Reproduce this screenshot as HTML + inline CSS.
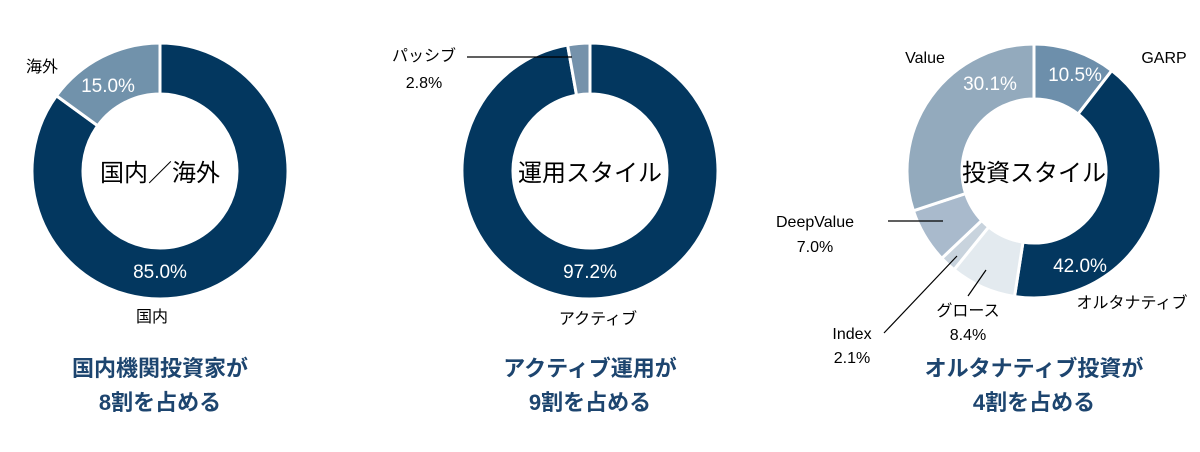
<!DOCTYPE html>
<html><head><meta charset="utf-8"><style>
html,body{margin:0;padding:0;background:#fff;}
svg{display:block;font-family:"Liberation Sans","Noto Sans CJK JP",sans-serif;}
</style></head><body>
<svg id="c" width="1200" height="452" viewBox="0 0 1200 452"></svg>
<script>
const chart1Values=[85.0,15.0];
const chart1Labels=["85.0%","15.0%"];
const chart1Colors=["#03375f","#7192ab"];
const chart2Values=[97.2,2.8];
const chart2Labels=["97.2%","2.8%"];
const chart2Colors=["#03375f","#7592ab"];
const chart3Values=[10.5,42.0,8.4,2.1,7.0,30.1];
const chart3Labels=["10.5%","42.0%","8.4%","2.1%","7.0%","30.1%"];
const chart3Colors=["#6d8fab","#03375f","#e3eaef","#c8d3dd","#a9bacc","#93aabd"];
const NS="http://www.w3.org/2000/svg";
const svg=document.getElementById('c');
function mk(tag,attrs,parent){const e=document.createElementNS(NS,tag);for(const k in attrs)e.setAttribute(k,attrs[k]);(parent||svg).appendChild(e);return e;}
function txt(x,y,s,size,fill,weight,name,anchor){const t=mk('text',{x:x,y:y,'font-size':size,fill:fill,'font-weight':weight||'normal','text-anchor':anchor||'middle'});t.textContent=s;


return t;}
function line(x1,y1,x2,y2,name){const l=mk('line',{x1:x1,y1:y1,x2:x2,y2:y2,stroke:'#000','stroke-width':1.2});

}
function donut(cx,cy,ro,ri,values,colors,prefix){
 const total=values.reduce((a,b)=>a+b,0);let a0=0;
 values.forEach((v,i)=>{const a1=a0+v/total*Math.PI*2;
  const p=(r,a)=>[cx+r*Math.sin(a),cy-r*Math.cos(a)];
  const large=(a1-a0)>Math.PI?1:0;
  const [x1,y1]=p(ro,a0),[x2,y2]=p(ro,a1),[x3,y3]=p(ri,a1),[x4,y4]=p(ri,a0);
  const path=mk('path',{d:`M${x1},${y1}A${ro},${ro} 0 ${large} 1 ${x2},${y2}L${x3},${y3}A${ri},${ri} 0 ${large} 0 ${x4},${y4}Z`,fill:colors[i],stroke:'#fff','stroke-width':3});
  
  
  a0=a1;});
}
donut(160,171,128,77,chart1Values,chart1Colors,'chart1');
donut(590,171,128,77,chart2Values,chart2Colors,'chart2');
donut(1034,171,127,72,chart3Values,chart3Colors,'chart3');
const B="#000",W="#fff",T="#1d456f";
// chart1
txt(160,181,"国内／海外",24,B,'normal','chart1-center-label');
txt(108,92,chart1Labels[1],19,W,'normal','chart1-value-overseas');
txt(160,278,chart1Labels[0],19,W,'normal','chart1-value-domestic');
txt(42,72,"海外",16,B,'normal','chart1-label-overseas');
txt(152,322,"国内",16,B,'normal','chart1-label-domestic');
txt(160,376,"国内機関投資家が",22,T,'bold','chart1-title-line1');
txt(160,410,"8割を占める",22,T,'bold','chart1-title-line2');
// chart2
txt(590,181,"運用スタイル",24,B,'normal','chart2-center-label');
txt(424,61,"パッシブ",16,B,'normal','chart2-label-passive');
txt(424,88,chart2Labels[1],16,B,'normal','chart2-value-passive');
line(467,57,572,57,'chart2-leader-line');
txt(590,278,chart2Labels[0],19,W,'normal','chart2-value-active');
txt(598,324,"アクティブ",16,B,'normal','chart2-label-active');
txt(590,376,"アクティブ運用が",22,T,'bold','chart2-title-line1');
txt(590,410,"9割を占める",22,T,'bold','chart2-title-line2');
// chart3
txt(1034,181,"投資スタイル",24,B,'normal','chart3-center-label');
txt(925,63,"Value",16,B,'normal','chart3-label-value');
txt(1164,63,"GARP",16,B,'normal','chart3-label-garp');
txt(990,90,chart3Labels[5],19,W,'normal','chart3-value-value');
txt(1075,81,chart3Labels[0],19,W,'normal','chart3-value-garp');
txt(1080,272,chart3Labels[1],19,W,'normal','chart3-value-alternative');
txt(1132,308,"オルタナティブ",16,B,'normal','chart3-label-alternative');
txt(815,227,"DeepValue",16,B,'normal','chart3-label-deepvalue');
txt(815,252,chart3Labels[4],16,B,'normal','chart3-value-deepvalue');
line(888,221,943,221,'chart3-leader-deepvalue');
txt(968,316,"グロース",16,B,'normal','chart3-label-growth');
txt(968,340,chart3Labels[2],16,B,'normal','chart3-value-growth');
line(968,296,986,270,'chart3-leader-growth');
txt(852,339,"Index",16,B,'normal','chart3-label-index');
txt(852,363,chart3Labels[3],16,B,'normal','chart3-value-index');
line(884,333,957,256,'chart3-leader-index');
txt(1034,376,"オルタナティブ投資が",22,T,'bold','chart3-title-line1');
txt(1034,410,"4割を占める",22,T,'bold','chart3-title-line2');
</script>
</body></html>
